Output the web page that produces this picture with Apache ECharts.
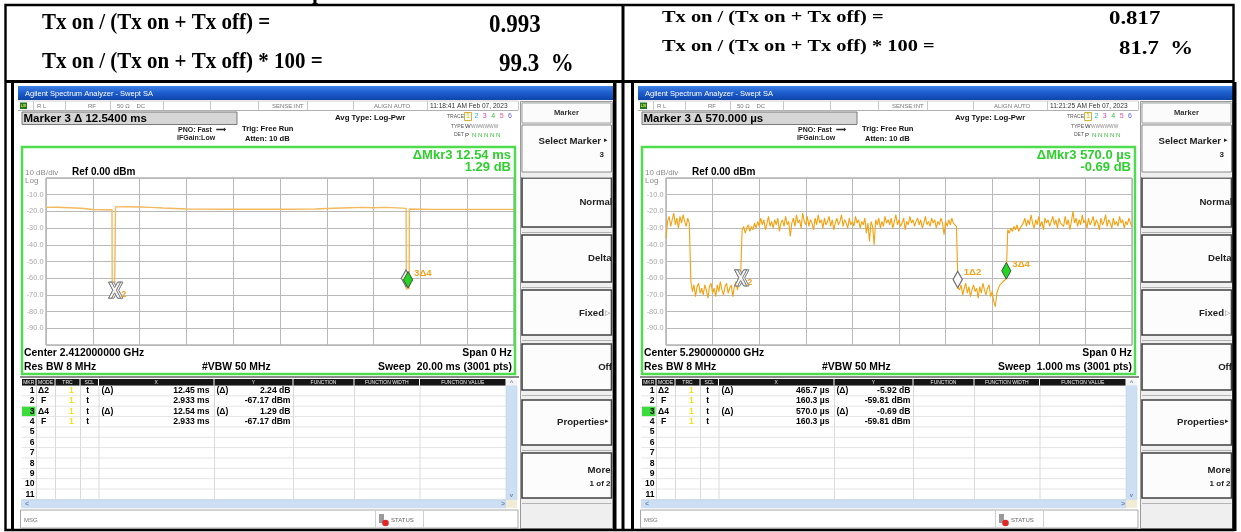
<!DOCTYPE html>
<html><head><meta charset="utf-8">
<script src="https://cdn.jsdelivr.net/npm/echarts@6/dist/echarts.min.js"></script>
<style>html,body{margin:0;padding:0;background:#fff}#c{width:1241px;height:532px}</style>
</head><body><div id="c"></div>
<script>
// ================= DATA =================
const ratioLabels = ['Tx on / (Tx on + Tx off) =', 'Tx on / (Tx on + Tx off) * 100 ='];
const ratioValues = [0.993, 0.817];
const ratioPercents = [99.3, 81.7];

const centerFreqGHz = [2.412, 5.29];
const sweepTimesMs = [20, 1];
const timeStamps = ['11:18:41 AM Feb 07, 2023', '11:21:25 AM Feb 07, 2023'];
const yTicks = [0, -10, -20, -30, -40, -50, -60, -70, -80, -90, -100];

const mkrNumbers = [1, 2, 3, 4, 5, 6, 7, 8, 9, 10, 11];
const mkrModes = ['Δ2', 'F', 'Δ4', 'F'];
const mkrRefs = [1, -1, 3, -1];
const mkrA_x = [12.45, 2.933, 12.54, 2.933];      // ms
const mkrA_y = [2.24, -67.17, 1.29, -67.17];
const mkrB_x = [465.7, 160.3, 570.0, 160.3];      // µs
const mkrB_y = [-5.92, -59.81, -0.69, -59.81];

// left trace: [time ms, dBm]
const traceA = [[0,-17.6],[0.5,-17.5],[1.0,-17.8],[1.5,-18.1],[2.0,-18.9],[2.5,-19.0],[2.82,-19.0],[2.83,-66.5],
 [2.933,-67.17],[2.96,-66.8],[2.97,-17.3],[3.5,-17.2],[4.0,-17.4],[4.5,-17.6],[5.0,-18.0],[6.0,-18.6],[8.0,-18.7],
 [10.0,-18.7],[11.5,-18.6],[12.3,-18.1],[13.0,-17.8],[13.5,-17.6],[14.0,-17.8],[14.5,-17.6],[15.0,-17.9],[15.39,-18.2],
 [15.40,-66.5],[15.473,-65.88],[15.52,-66.2],[15.53,-18.6],[16.5,-18.8],[18,-18.8],[20,-18.8]];

// right trace: 301 samples over the 1 ms sweep (dBm)
const traceB = [
 -36,-26,-23,-29,-25,-21,-28,-24,-30,-23,-27,-22,-26,-29,-24,-27,
 -62,-68,-64,-71,-65,-63,-69,-66,-70,-64,-67,-72,-65,-63,-69,-66,-71,-64,-68,-62,-67,-70,-65,-63,-69,-66,-64,-71,-65,-62,-67,-63,
 -59.8,
 -31,-29,-33,-30,-28,-32,-29,-31,-27,-30,
 -26,-29,-24,-28,-25,-31,-27,-23,-29,-26,-30,-25,-28,-24,-32,-27,-25,-29,-23,-28,
 -26,-35,-27,-24,-29,-22,-27,-25,-30,-21,-26,-28,-23,-29,-25,-27,-31,-24,-28,-22,
 -27,-25,-30,-24,-28,-26,-23,-29,-25,-31,-27,-24,-28,-26,-22,-29,-25,-27,-30,-24,
 -28,-26,-29,-23,-27,-25,-30,-26,-28,-24,-33,-27,-38,-26,-29,-40,-25,-28,-24,-30,
 -26,-29,-23,-27,-25,-28,-24,-30,-26,-22,-28,-25,-29,-27,-24,-31,-26,-28,-23,-27,
 -25,-29,-26,-24,-28,-25,-30,-27,-23,-28,-26,-29,-24,-27,-25,-30,-26,-28,-24,-27,
 -34,-26,-29,-25,-28,-24,-27,-26,-29,
 -65.7,
 -67,-64,-70,-66,-63,-69,-65,-71,-67,-64,-68,-66,-72,-65,-69,-63,-67,-70,-66,-64,-71,-68,-74,-77,-69,-66,-64,-63,-62,-61,
 -60.5,
 -31,-33,-30,-32,-29,-31,-28,-32,-30,-29,
 -27,-24,-29,-25,-28,-22,-27,-30,-25,-28,-23,-29,-26,-31,-24,-27,-25,-29,-26,-23,
 -28,-25,-30,-24,-27,-26,-29,-23,-28,-25,-31,-26,-20,-27,-24,-29,-25,-28,-22,-27,
 -25,-30,-24,-28,-26,-23,-29,-25,-27,-31,-24,-28,-26,-22,-29,-25,-27,-30,-24,-28,
 -26,-29,-23,-27,-25,-30,-26,-28,-24,-27,-29
];

// ================= HELPERS =================
const UI = '"Liberation Sans", Arial, Helvetica, sans-serif';
const SERIF = '"Liberation Serif", "Times New Roman", serif';
const ORANGE = '#f5a21c';

function txt(x, y, s, font, fill, align, va, extra) {
  return Object.assign({type: 'text', x: x, y: y, z: 20,
    style: {text: s, font: font, fill: fill || '#000', align: align || 'left', verticalAlign: va || 'middle',
            textAlign: align || 'left', textVerticalAlign: va || 'middle'}}, extra || {});
}
function rect(x, y, w, h, fill, stroke, lw, z) {
  return {type: 'rect', z: z || 5, shape: {x: x, y: y, width: w, height: h},
    style: {fill: fill || 'none', stroke: stroke || null, lineWidth: lw || 0}};
}
function line(x1, y1, x2, y2, stroke, lw, z) {
  return {type: 'line', z: z || 6, shape: {x1: x1, y1: y1, x2: x2, y2: y2}, style: {stroke: stroke, lineWidth: lw || 1}};
}

function markerPositions(xs, ys, scale) {
  return xs.map(function (x, i) {
    const r = mkrRefs[i];
    const ax = r >= 0 ? xs[r] + x : x;
    const ay = r >= 0 ? ys[r] + ys[i] : ys[i];
    return [ax * scale, ay];
  });
}

// ================= SCREEN CHROME =================
function screen(ox, k) {
  const E = [];
  const X = function (v) { return v + ox; };
  const isA = k === 0;
  const mx = isA ? mkrA_x : mkrB_x, my = isA ? mkrA_y : mkrB_y;
  const unit = isA ? 'ms' : 'µs';
  // frame
  E.push(rect(X(11), 82, 3, 449, '#000', null, 0, 3));
  E.push(rect(X(613), 82, 3.5, 449, '#000', null, 0, 3));
  // title bar
  E.push({type: 'rect', z: 5, shape: {x: X(18), y: 86, width: 595, height: 14},
    style: {fill: new echarts.graphic.LinearGradient(0, 0, 0, 1, [{offset: 0, color: '#3f82e6'}, {offset: 0.5, color: '#1c5ccc'}, {offset: 1, color: '#0f45a8'}])}});
  E.push(txt(X(25), 93.5, 'Agilent Spectrum Analyzer - Swept SA', '7.5px ' + UI, '#fff'));
  // status row
  E.push(line(X(18), 110.5, X(518), 110.5, '#b0b0b0', 1));
  E.push(line(X(18), 101, X(518), 101, '#d0d0d0', 1));
  [33, 65, 110, 163, 210, 258, 307, 353, 427, 518].forEach(function (sx) { E.push(line(X(sx) + 0.5, 101, X(sx) + 0.5, 110.5, '#c8c8c8', 1)); });
  E.push(rect(X(20), 102.5, 7, 6.5, '#1f7a1f'));
  E.push(txt(X(23.5), 105.8, 'LXI', 'bold 3.5px ' + UI, '#e8e860', 'center'));
  E.push(txt(X(37), 106, 'R L', '6px ' + UI, '#777'));
  E.push(txt(X(88), 106, 'RF', '6px ' + UI, '#777'));
  E.push(txt(X(117), 106, '50 Ω    DC', '6px ' + UI, '#777'));
  E.push(txt(X(272), 106, 'SENSE:INT', '6px ' + UI, '#777'));
  E.push(txt(X(374), 106, 'ALIGN AUTO', '6px ' + UI, '#777'));
  E.push(txt(X(430), 106, timeStamps[k], '6.6px ' + UI, '#333'));
  // marker line
  E.push(rect(X(22), 112, 215, 12.5, '#d6d6d6', '#7a7a7a', 1));
  E.push(txt(X(23.5), 118.5, 'Marker 3 Δ ' + mx[2].toFixed(isA ? 4 : 3) + ' ' + unit, 'bold 11.5px ' + UI, '#000'));
  E.push(txt(X(178), 130, 'PNO: Fast  ⟶', 'bold 7px ' + UI, '#222'));
  E.push(txt(X(177), 138.5, 'IFGain:Low', 'bold 7px ' + UI, '#222'));
  E.push(txt(X(242), 128.5, 'Trig: Free Run', 'bold 7.6px ' + UI, '#111'));
  E.push(txt(X(245), 138.5, 'Atten: 10 dB', 'bold 7.6px ' + UI, '#111'));
  E.push(txt(X(335), 118, 'Avg Type: Log-Pwr', 'bold 7.8px ' + UI, '#111'));
  E.push(txt(X(464), 116.5, 'TRACE', '5px ' + UI, '#555', 'right'));
  E.push(txt(X(464), 126.5, 'TYPE', '5px ' + UI, '#555', 'right'));
  E.push(txt(X(464), 135, 'DET', '5px ' + UI, '#555', 'right'));
  const tc = ['#d9b000', '#19b5d8', '#e03ca8', '#3bb53b', '#e8508e', '#5a5af0'];
  tc.forEach(function (c, i) { E.push(txt(X(468 + i * 8.4), 116.5, String(i + 1), '7px ' + UI, c, 'center')); });
  E.push(rect(X(464.5), 112.5, 7, 8, 'none', '#c9a000', 0.8));
  E.push(txt(X(465), 126.5, 'W', '6px ' + UI, '#333'));
  E.push(txt(X(471), 126.5, 'WWWWWW', '4.8px ' + UI, '#888'));
  E.push(txt(X(465), 135, 'P', '6px ' + UI, '#333'));
  E.push(txt(X(472), 135, 'N N N N N', '6px ' + UI, '#33bb33'));
  // green plot box
  E.push(rect(X(22), 147, 493, 227, 'none', '#4fdd4f', 2.5, 8));
  const dm = isA ? mx[2].toFixed(2) : mx[2].toFixed(1);
  E.push(txt(X(511), 155, 'ΔMkr3 ' + dm + ' ' + unit, 'bold 13px ' + UI, '#2fcf2f', 'right'));
  E.push(txt(X(511), 167, my[2].toFixed(2) + ' dB', 'bold 13px ' + UI, '#2fcf2f', 'right'));
  E.push(txt(X(25), 173, '10 dB/div', '8px ' + UI, '#8a8a8a'));
  E.push(txt(X(72), 172.5, 'Ref 0.00 dBm', 'bold 10px ' + UI, '#000'));
  E.push(txt(X(25), 180.5, 'Log', '8px ' + UI, '#8a8a8a'));
  E.push(txt(X(24), 353.3, 'Center ' + centerFreqGHz[k].toFixed(9) + ' GHz', 'bold 10.4px ' + UI, '#000'));
  E.push(txt(X(24), 366.7, 'Res BW 8 MHz', 'bold 10.4px ' + UI, '#000'));
  E.push(txt(X(202), 366.7, '#VBW 50 MHz', 'bold 10.4px ' + UI, '#000'));
  E.push(txt(X(512), 353.3, 'Span 0 Hz', 'bold 10.4px ' + UI, '#000', 'right'));
  E.push(txt(X(512), 366.7, 'Sweep  ' + sweepTimesMs[k].toFixed(isA ? 2 : 3) + ' ms (3001 pts)', 'bold 10.4px ' + UI, '#000', 'right'));
  // separator below the plot
  E.push(rect(X(20), 376, 499, 2, '#8a8a8a'));
  // marker table
  const edges = [21.5, 36, 55, 80, 98.5, 214, 293, 354, 419.5, 506];
  const heads = ['MKR', 'MODE', 'TRC', 'SCL', 'X', 'Y', 'FUNCTION', 'FUNCTION WIDTH', 'FUNCTION VALUE'];
  for (let i = 0; i < heads.length; i++) {
    E.push(rect(X(edges[i]) + 0.5, 379, edges[i + 1] - edges[i] - 1, 6.5, '#151515'));
    E.push(txt(X((edges[i] + edges[i + 1]) / 2), 382.4, heads[i], '5px ' + UI, '#eee', 'center'));
  }
  const rowTop = 385.5, pitch = 10.35;
  for (let i = 0; i <= 11; i++) E.push(line(X(21.5), rowTop + i * pitch, X(506), rowTop + i * pitch, '#e4e4e4', 1, 4));
  for (let i = 1; i < edges.length - 1; i++) E.push(line(X(edges[i]) + 0.5, rowTop, X(edges[i]) + 0.5, rowTop + 11 * pitch, '#dadada', 1, 4));
  E.push(rect(X(22), rowTop + 2 * pitch + 0.5, 13.5, pitch - 1, '#3ddc3d', null, 0, 6));
  const rf = 'bold 8.6px ' + UI;
  mkrNumbers.forEach(function (n, i) {
    const cy = rowTop + (i + 0.5) * pitch;
    E.push(txt(X(34.5), cy, String(n), rf, '#000', 'right'));
    if (i < mkrModes.length) {
      const isDelta = mkrRefs[i] >= 0;
      E.push(txt(X(43.5), cy, mkrModes[i], rf, '#000', 'center'));
      E.push(txt(X(71.5), cy, '1', rf, '#f0e020', 'center'));
      E.push(txt(X(87.7), cy, 't', rf, '#000', 'center'));
      if (isDelta) { E.push(txt(X(101.5), cy, '(Δ)', rf, '#000')); E.push(txt(X(216.5), cy, '(Δ)', rf, '#000')); }
      E.push(txt(X(209.5), cy, mx[i].toPrecision(4) + ' ' + unit, rf, '#000', 'right'));
      E.push(txt(X(290.5), cy, my[i].toFixed(2) + (isDelta ? ' dB' : ' dBm'), rf, '#000', 'right'));
    }
  });
  // scrollbars
  E.push(rect(X(506), rowTop, 11, 11 * pitch + 0.5, '#cddff3', '#b8c8dc', 0.5));
  E.push(rect(X(506), 379, 11, 6.5, '#f4f4f4'));
  E.push(txt(X(511.5), 382.8, '^', 'bold 6px ' + UI, '#6a86b8', 'center'));
  E.push(txt(X(511.5), rowTop + 10.6 * pitch, 'v', 'bold 6px ' + UI, '#6a86b8', 'center'));
  const hy = rowTop + 11 * pitch + 0.5;
  E.push(rect(X(21.5), hy, 484.5, 8, '#cddff3', '#b8c8dc', 0.5));
  E.push(rect(X(506), hy, 11, 8, '#f1ecd6'));
  E.push(txt(X(25), hy + 4, '<', 'bold 7px ' + UI, '#6a86b8'));
  E.push(txt(X(501), hy + 4, '>', 'bold 7px ' + UI, '#6a86b8'));
  // MSG bar
  E.push(rect(X(20.5), 510, 497.5, 18, '#fff', '#a8a8a8', 1));
  E.push(txt(X(24), 520.5, 'MSG', '6px ' + UI, '#777'));
  E.push(line(X(375.5), 510, X(375.5), 528, '#d0d0d0', 1));
  E.push(line(X(423.5), 510, X(423.5), 528, '#d0d0d0', 1));
  E.push(rect(X(379), 514, 5, 9, '#9a9a9a'));
  E.push({type: 'circle', z: 7, shape: {cx: X(385.5), cy: 523, r: 3.3}, style: {fill: '#e02828'}});
  E.push(txt(X(391), 520.5, 'STATUS', '6px ' + UI, '#666'));
  // soft-key menu
  E.push(rect(X(520.5), 101.5, 92, 427, '#efefef', '#9a9a9a', 1, 2));
  E.push(rect(X(522), 103, 89, 20, '#fbfbfb', '#a0a0a0', 1));
  E.push(txt(X(566.5), 113, 'Marker', 'bold 7.6px ' + UI, '#333', 'center'));
  const btns = [[125, 172, 1], [178, 227, 2], [235, 282, 2], [290, 335, 2], [344, 390, 2], [400, 445, 2], [453, 498, 2]];
  btns.forEach(function (b) {
    E.push(rect(X(522), b[0], 89.5, b[1] - b[0], '#fcfcfc', b[2] > 1 ? '#404040' : '#8a8a8a', b[2] > 1 ? 1.6 : 1));
    E.push(line(X(522), b[1] + 5.5, X(611.5), b[1] + 5.5, '#b4b4b4', 1));
  });
  const bf = 'bold 9.6px ' + UI;
  E.push(txt(X(601), 141.7, 'Select Marker', bf, '#222', 'right'));
  E.push(txt(X(603.5), 140, '▸', '7px ' + UI, '#222'));
  E.push(txt(X(604), 155, '3', 'bold 8px ' + UI, '#222', 'right'));
  E.push(txt(X(612.5), 202, 'Normal', bf, '#222', 'right'));
  E.push(txt(X(611.5), 258, 'Delta', bf, '#222', 'right'));
  E.push(txt(X(604), 313, 'Fixed', bf, '#222', 'right'));
  E.push(txt(X(604.5), 313, '▷', '7px ' + UI, '#777'));
  E.push(txt(X(612), 367.5, 'Off', bf, '#222', 'right'));
  E.push(txt(X(604.5), 422, 'Properties', bf, '#222', 'right'));
  E.push(txt(X(605), 421.5, '▸', '7px ' + UI, '#222'));
  E.push(txt(X(610.5), 470, 'More', bf, '#222', 'right'));
  E.push(txt(X(610.5), 483.5, '1 of 2', 'bold 8px ' + UI, '#222', 'right'));
  return E;
}

// ================= PAGE =================
const G = [];
// outer table
G.push(rect(5.5, 5, 1228, 525, 'none', '#000', 2.4, 30));
G.push(rect(5, 80, 1229, 3, '#000', null, 0, 30));
G.push(rect(621.5, 5, 3, 525, '#000', null, 0, 30));
// clipped heading glyph above the table
G.push(txt(318, 4.5, 'p', 'bold 22px ' + SERIF, '#000', 'center', 'bottom'));
// top row texts
G.push(txt(42, 23, ratioLabels[0], 'bold 21px ' + SERIF, '#000', 'left', 'middle', {scaleY: 1.1}));
G.push(txt(489, 25, ratioValues[0].toFixed(3), 'bold 23px ' + SERIF, '#000', 'left', 'middle', {scaleY: 1.1}));
G.push(txt(42, 62, ratioLabels[1], 'bold 21px ' + SERIF, '#000', 'left', 'middle', {scaleY: 1.1}));
G.push(txt(499, 64, ratioPercents[0].toFixed(1) + '  %', 'bold 23px ' + SERIF, '#000', 'left', 'middle', {scaleY: 1.1}));
G.push(txt(662, 18, ratioLabels[0], 'bold 17px ' + SERIF, '#000', 'left', 'middle', {scaleX: 1.2}));
G.push(txt(1109, 19.5, ratioValues[1].toFixed(3), 'bold 19px ' + SERIF, '#000', 'left', 'middle', {scaleX: 1.2}));
G.push(txt(662, 47, ratioLabels[1], 'bold 17px ' + SERIF, '#000', 'left', 'middle', {scaleX: 1.2}));
G.push(txt(1119, 49, ratioPercents[1].toFixed(1) + '  %', 'bold 19px ' + SERIF, '#000', 'left', 'middle', {scaleX: 1.2}));

const screenA = screen(0, 0);
const screenB = screen(620, 1);

// markers
const mkrPosA = markerPositions(mkrA_x, mkrA_y, 1);
const mkrPosB = markerPositions(mkrB_x, mkrB_y, 0.001);
const mkrKinds = [1, 0, 2, 0];   // 0 = fixed (X), 1 = hollow diamond, 2 = active (green) diamond
const mkrLabelsA = ['', '2', '3Δ4', ''];
const mkrLabelsB = ['1Δ2', '2', '3Δ4', ''];

function markerSeries(idx, pos, labels) {
  return {
    type: 'custom', xAxisIndex: idx, yAxisIndex: idx, z: 6, animation: false, silent: true,
    data: pos.map(function (p, i) { return [p[0], p[1], mkrKinds[i]]; }),
    renderItem: function (params, api) {
      const c = api.coord([api.value(0), api.value(1)]);
      const kind = api.value(2);
      const lab = labels[params.dataIndex];
      const ch = [];
      if (kind === 0) {
        const xs = function (dx) {
          const p = [[-6, -8], [-3, -8], [0, -2.6], [3, -8], [6, -8], [1.8, 0], [6, 8], [3, 8], [0, 2.6], [-3, 8], [-6, 8], [-1.8, 0]];
          return p.map(function (q) { return [c[0] + q[0] + dx, c[1] + q[1]]; });
        };
        ch.push({type: 'polygon', shape: {points: xs(2.2)}, style: {fill: '#f2f2f2', stroke: '#8c8c8c', lineWidth: 1}});
        ch.push({type: 'polygon', shape: {points: xs(0)}, style: {fill: '#f6f6f6', stroke: '#7a7a7a', lineWidth: 1}});
        if (lab) ch.push({type: 'text', x: c[0] + 6.5, y: c[1] + 4.5, style: {text: lab, fill: ORANGE, font: 'bold 9px ' + UI, verticalAlign: 'middle', textVerticalAlign: 'middle'}});
      } else {
        const pts = [[c[0], c[1] - 16.5], [c[0] + 4.6, c[1] - 8.2], [c[0], c[1]], [c[0] - 4.6, c[1] - 8.2]];
        ch.push({type: 'polygon', shape: {points: pts},
          style: kind === 2 ? {fill: '#27d327', stroke: '#2e5a2e', lineWidth: 1} : {fill: '#fbfbfb', stroke: '#6e6e6e', lineWidth: 1.2}});
        if (lab) ch.push({type: 'text', x: c[0] + 6, y: c[1] - 15, style: {text: lab, fill: ORANGE, font: 'bold 9.6px ' + UI, verticalAlign: 'middle', textVerticalAlign: 'middle'}});
      }
      return {type: 'group', children: ch};
    }
  };
}

function yAxisCfg(gi) {
  return {type: 'value', gridIndex: gi, min: yTicks[yTicks.length - 1], max: yTicks[0], interval: 10,
    axisLine: {show: false}, axisTick: {show: false},
    axisLabel: {color: '#a8a8a8', fontSize: 7.4, fontFamily: UI, margin: 2.5,
      formatter: function (v) { return (v === yTicks[0] || v === yTicks[yTicks.length - 1]) ? '' : v.toFixed(1); }},
    splitLine: {lineStyle: {color: '#b9b9b9', width: 1}}};
}
function xAxisCfg(gi, maxV) {
  return {type: 'value', gridIndex: gi, min: 0, max: maxV, interval: maxV / 10,
    axisLine: {show: false}, axisTick: {show: false}, axisLabel: {show: false},
    splitLine: {lineStyle: {color: '#b9b9b9', width: 1}}};
}

const chart = echarts.init(document.getElementById('c'), null, {renderer: 'canvas'});
chart.setOption({
  backgroundColor: '#ffffff',
  animation: false,
  grid: [
    {left: 46, top: 178, width: 468, height: 167, show: true, borderColor: '#8e8e8e', borderWidth: 1, backgroundColor: '#fff'},
    {left: 666, top: 178, width: 466, height: 167, show: true, borderColor: '#8e8e8e', borderWidth: 1, backgroundColor: '#fff'}
  ],
  xAxis: [xAxisCfg(0, sweepTimesMs[0]), xAxisCfg(1, sweepTimesMs[1])],
  yAxis: [yAxisCfg(0), yAxisCfg(1)],
  series: [
    {type: 'line', xAxisIndex: 0, yAxisIndex: 0, data: traceA, showSymbol: false, symbol: 'none',
      lineStyle: {color: '#f3b95f', width: 1.4}, z: 3},
    {type: 'line', xAxisIndex: 1, yAxisIndex: 1, showSymbol: false, symbol: 'none',
      data: traceB.map(function (v, i) { return [i * sweepTimesMs[1] / (traceB.length - 1), v]; }),
      lineStyle: {color: '#f5a10f', width: 1.1}, z: 3},
    markerSeries(0, mkrPosA, mkrLabelsA),
    markerSeries(1, mkrPosB, mkrLabelsB)
  ],
  graphic: {elements: G.concat(screenA, screenB)}
});
</script></body></html>
